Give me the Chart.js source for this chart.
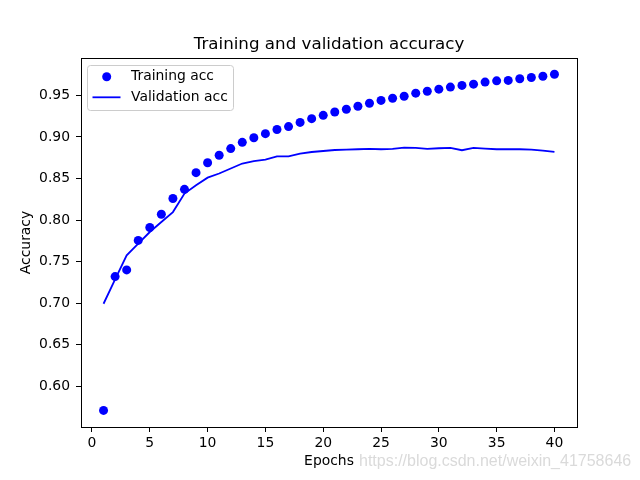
<!DOCTYPE html>
<html>
<head>
<meta charset="utf-8">
<script src="https://cdn.jsdelivr.net/npm/chart.js@4/dist/chart.umd.min.js"></script>
<style>
  html, body { margin: 0; padding: 0; background: #fff; }
  #wrap { width: 640px; height: 480px; }
</style>
</head>
<body>
<div id="wrap"><canvas id="accChart" width="640" height="480"></canvas></div>
<script>
var epochs = [1, 2, 3, 4, 5, 6, 7, 8, 9, 10, 11, 12, 13, 14, 15, 16, 17, 18, 19, 20,
              21, 22, 23, 24, 25, 26, 27, 28, 29, 30, 31, 32, 33, 34, 35, 36, 37, 38, 39, 40];

var trainAcc = [0.571, 0.732, 0.740, 0.7755, 0.791, 0.807, 0.826, 0.837, 0.857, 0.869,
                0.878, 0.886, 0.8935, 0.899, 0.904, 0.909, 0.9125, 0.9175, 0.922, 0.926,
                0.930, 0.9333, 0.937, 0.9406, 0.944, 0.9466, 0.949, 0.9527, 0.955, 0.9575,
                0.960, 0.962, 0.9635, 0.966, 0.9675, 0.968, 0.970, 0.9716, 0.973, 0.9755];

var valAcc = [0.6993, 0.7285, 0.7575, 0.7716, 0.7856, 0.7976, 0.8096, 0.8318, 0.8418, 0.851,
              0.856, 0.862, 0.868, 0.871, 0.8728, 0.8767, 0.8767, 0.880, 0.8819, 0.8831,
              0.8843, 0.8848, 0.8852, 0.8856, 0.8852, 0.8856, 0.8872, 0.8868, 0.8856, 0.8864,
              0.8868, 0.884, 0.8868, 0.886, 0.8852, 0.8852, 0.8852, 0.8848, 0.8836, 0.882];

var xTicks = [0, 5, 10, 15, 20, 25, 30, 35, 40];
var yTicks = [0.60, 0.65, 0.70, 0.75, 0.80, 0.85, 0.90, 0.95];

var seriesLabels = ['Training acc', 'Validation acc'];
var titleText = 'Training and validation accuracy';
var xTitle = 'Epochs';
var yTitle = 'Accuracy';
var watermark = 'https://blog.csdn.net/weixin_41758646';

var FONT = "'DejaVu Sans', sans-serif";

// matplotlib style frame + title + legend + watermark
var mplExtras = {
    id: 'mplExtras',
    afterDatasetsDraw: function (chart) {
        var ctx = chart.ctx;
        var a = chart.chartArea;
        ctx.save();
        // spines
        ctx.strokeStyle = '#000';
        ctx.lineWidth = 1;
        ctx.strokeRect(Math.round(a.left) + 0.5, Math.round(a.top) + 0.5,
                       Math.round(a.right - a.left), Math.round(a.bottom - a.top));

        // title centred over the axes
        ctx.fillStyle = '#000';
        ctx.font = '16.7px ' + FONT;
        ctx.textAlign = 'center';
        ctx.textBaseline = 'alphabetic';
        ctx.fillText(titleText, (a.left + a.right) / 2, 49);

        // legend box (upper left)
        var lx = 87.5, ly = 65.5, lw = 146, lh = 45, r = 3;
        ctx.beginPath();
        ctx.moveTo(lx + r, ly);
        ctx.lineTo(lx + lw - r, ly);
        ctx.quadraticCurveTo(lx + lw, ly, lx + lw, ly + r);
        ctx.lineTo(lx + lw, ly + lh - r);
        ctx.quadraticCurveTo(lx + lw, ly + lh, lx + lw - r, ly + lh);
        ctx.lineTo(lx + r, ly + lh);
        ctx.quadraticCurveTo(lx, ly + lh, lx, ly + lh - r);
        ctx.lineTo(lx, ly + r);
        ctx.quadraticCurveTo(lx, ly, lx + r, ly);
        ctx.closePath();
        ctx.fillStyle = 'rgba(255,255,255,0.8)';
        ctx.fill();
        ctx.strokeStyle = '#cccccc';
        ctx.stroke();

        var ds = chart.data.datasets;
        // marker for training
        ctx.fillStyle = ds[0].backgroundColor;
        ctx.beginPath();
        ctx.arc(106.7, 76.7, 4.5, 0, Math.PI * 2);
        ctx.fill();
        // line for validation
        ctx.strokeStyle = ds[1].borderColor;
        ctx.lineWidth = 1.8;
        ctx.beginPath();
        ctx.moveTo(92.5, 97.3);
        ctx.lineTo(120.5, 97.3);
        ctx.stroke();

        ctx.fillStyle = '#000';
        ctx.font = '13.9px ' + FONT;
        ctx.textAlign = 'left';
        ctx.textBaseline = 'middle';
        ctx.fillText(ds[0].label, 131, 76.5);
        ctx.fillText(ds[1].label, 131, 97);

        // watermark
        ctx.fillStyle = '#dadada';
        ctx.font = "16px 'Liberation Sans', Arial, sans-serif";
        ctx.textBaseline = 'alphabetic';
        ctx.fillText(watermark, 359, 466);
        ctx.restore();
    }
};

var ctx = document.getElementById('accChart').getContext('2d');

var accChart = new Chart(ctx, {
    type: 'line',
    data: {
        datasets: [{
            label: seriesLabels[0],
            data: epochs.map(function (e, i) { return { x: e, y: trainAcc[i] }; }),
            showLine: false,
            backgroundColor: '#0000ff',
            borderColor: '#0000ff',
            pointRadius: 4.5,
            pointBorderWidth: 0,
            pointHoverRadius: 4.5
        }, {
            label: seriesLabels[1],
            data: epochs.map(function (e, i) { return { x: e, y: valAcc[i] }; }),
            borderColor: '#0000ff',
            backgroundColor: '#0000ff',
            borderWidth: 1.8,
            pointRadius: 0,
            tension: 0,
            fill: false
        }]
    },
    options: {
        responsive: false,
        animation: false,
        devicePixelRatio: 1,
        layout: { padding: { left: 0, right: 63, top: 58, bottom: 0 } },
        scales: {
            x: {
                type: 'linear',
                min: -0.95,
                max: 41.95,
                afterBuildTicks: function (scale) {
                    scale.ticks = xTicks.map(function (v) { return { value: v }; });
                },
                afterFit: function (scale) { scale.height = 53; },
                grid: { display: true, drawOnChartArea: false, drawTicks: true, tickLength: 5, tickColor: '#000', tickWidth: 1 },
                border: { display: true, color: '#000', width: 1 },
                ticks: {
                    color: '#000',
                    font: { family: FONT, size: 13.9 },
                    padding: 3,
                    maxRotation: 0,
                    autoSkip: false,
                    callback: function (v) { return String(v); }
                },
                title: {
                    display: true,
                    text: xTitle,
                    color: '#000',
                    font: { family: FONT, size: 13.9 },
                    padding: { top: 0, bottom: 10 }
                }
            },
            y: {
                type: 'linear',
                min: 0.551,
                max: 0.995,
                afterBuildTicks: function (scale) {
                    scale.ticks = yTicks.map(function (v) { return { value: v }; });
                },
                afterFit: function (scale) { scale.width = 81; },
                grid: { display: true, drawOnChartArea: false, drawTicks: true, tickLength: 5, tickColor: '#000', tickWidth: 1 },
                border: { display: true, color: '#000', width: 1 },
                ticks: {
                    color: '#000',
                    font: { family: FONT, size: 13.9 },
                    padding: 6,
                    autoSkip: false,
                    callback: function (v) { return v.toFixed(2); }
                },
                title: {
                    display: true,
                    text: yTitle,
                    color: '#000',
                    font: { family: FONT, size: 13.9 },
                    padding: { top: 18, bottom: 0 }
                }
            }
        },
        plugins: {
            legend: { display: false },
            tooltip: { enabled: false },
            title: { display: false }
        }
    },
    plugins: [mplExtras]
});
</script>
</body>
</html>
